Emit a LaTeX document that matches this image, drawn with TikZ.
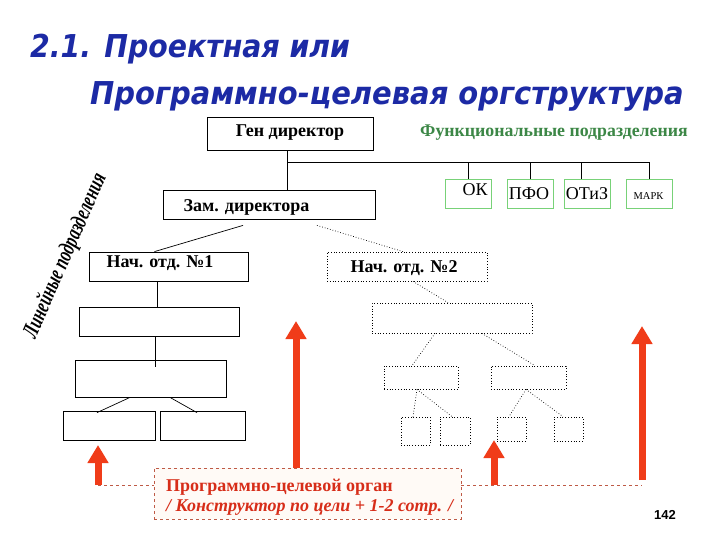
\documentclass[tikz,border=0pt]{standalone}
\usepackage{fontspec}
\setmainfont{Liberation Serif}
\newfontfamily\titlefont{DejaVu Sans}
\newfontfamily\numfont{Liberation Sans}
\usetikzlibrary{arrows.meta}
\definecolor{titleblue}{RGB}{28,42,165}
\definecolor{funcgreen}{RGB}{60,135,70}
\definecolor{boxgreen}{RGB}{120,210,120}
\definecolor{arrred}{RGB}{240,60,25}
\definecolor{txtred}{RGB}{215,45,25}
\definecolor{dashred}{RGB}{190,90,70}
\tikzset{
  box/.style={draw=black, line width=0.8pt, inner sep=0pt},
  dbox/.style={draw=black, dotted, line width=0.8pt, inner sep=0pt},
  gbox/.style={draw=boxgreen, line width=0.9pt, inner sep=0pt, minimum width=46pt, minimum height=29pt},
  conn/.style={draw=black, line width=0.7pt},
  dconn/.style={draw=black, dotted, line width=0.7pt},
  redarrow/.style={draw=arrred, line width=7pt, -{Triangle[width=20pt,length=18pt]}},
  reddash/.style={draw=dashred, dashed, line width=0.7pt},
  bl/.style={font=\bfseries\fontsize{18}{20}\selectfont, inner sep=0pt},
}
\begin{document}
\begin{tikzpicture}[x=1pt,y=-1pt]
\useasboundingbox (0,0) rectangle (720,540);
\fill[white] (0,0) rectangle (720,540);

% title
\node[anchor=west, inner sep=0pt, text=titleblue] (t1) at (30,49)
  {\scalebox{0.9}[1]{\titlefont\bfseries\itshape\fontsize{31.5}{34}\selectfont 2.1. Проектная или}};
\node[anchor=west, inner sep=0pt, text=titleblue] (t2) at (90,96)
  {\scalebox{0.92}[1]{\titlefont\bfseries\itshape\fontsize{31.5}{34}\selectfont Программно-целевая оргструктура}};

% top boxes
\node[box, minimum width=166pt, minimum height=33pt] (gen) at (290,133.5) {};
\node[bl] (gent) at (290,133) {Ген директор};
\node[font=\bfseries\fontsize{17.8}{20}\selectfont, text=funcgreen, inner sep=0pt] (func) at (554,133) {Функциональные подразделения};

\node[box, minimum width=212pt, minimum height=29pt] (zam) at (269,204.5) {};
\node[bl] (zamt) at (246.5,207) {Зам. директора};

% functional boxes
\node[gbox] (ok) at (468,193.5) {};
\node[inner sep=0pt, font=\fontsize{18}{18}\selectfont] (okt) at (475,190) {ОК};
\node[gbox] (pfo) at (530,193.5) {};
\node[inner sep=0pt, font=\fontsize{18}{18}\selectfont] (pfot) at (529,194) {ПФО};
\node[gbox] (otiz) at (587,193.5) {};
\node[inner sep=0pt, font=\fontsize{18}{18}\selectfont] (otizt) at (587,194) {ОТиЗ};
\node[gbox] (mark) at (649,193.5) {};
\node[inner sep=0pt, font=\fontsize{10.5}{12}\selectfont] (markt) at (648.5,196) {МАРК};

\coordinate (bus) at (287,162);
\draw[conn] ([xshift=-3pt]gen.south) -- ([xshift=-3pt]gen.south |- zam.north);
\draw[conn] (bus) -| (mark.north);
\draw[conn] (ok.north) -- (ok.north |- bus);
\draw[conn] (pfo.north) -- (pfo.north |- bus);
\draw[conn] ([xshift=-6pt]otiz.north) -- ([xshift=-6pt]otiz.north |- bus);

% level 2
\node[box, minimum width=159pt, minimum height=29pt] (n1) at (168.5,266.5) {};
\node[bl] (n1t) at (160,263) {Нач. отд. №1};
\node[dbox, minimum width=160pt, minimum height=29pt] (n2) at (407,266.5) {};
\node[bl] (n2t) at (404,268) {Нач. отд. №2};

\draw[conn] ([xshift=-26pt,yshift=-6pt]zam.south) -- ([xshift=-14pt]n1.north);
\draw[dconn] ([xshift=48pt,yshift=-6pt]zam.south) -- ([xshift=-4pt]n2.north);

% left tree
\node[box, minimum width=160pt, minimum height=29pt] (l2) at (159,321.5) {};
\node[box, minimum width=151pt, minimum height=37pt] (l3) at (150.5,378.5) {};
\node[box, minimum width=92pt, minimum height=29pt] (l4a) at (109,425.5) {};
\node[box, minimum width=85pt, minimum height=29pt] (l4b) at (202.5,425.5) {};
\draw[conn] ([xshift=-11.5pt]n1.south) -- ([xshift=-11.5pt]n1.south |- l2.north);
\draw[conn] ([xshift=-4pt]l2.south) -- ([xshift=-4pt,yshift=-7pt]l2.south |- l3.north);
\draw[conn] ([xshift=-20.5pt]l3.south) -- ([xshift=-12pt,yshift=-2pt]l4a.north);
\draw[conn] ([xshift=19.5pt]l3.south) -- ([xshift=-5.5pt,yshift=-2pt]l4b.north);

% right dotted tree
\node[dbox, minimum width=160pt, minimum height=30pt] (r2) at (452,318) {};
\node[dbox, minimum width=74pt, minimum height=23pt] (r3a) at (421,377.5) {};
\node[dbox, minimum width=75pt, minimum height=23pt] (r3b) at (528.5,377.5) {};
\node[dbox, minimum width=29pt, minimum height=28pt] (r4a) at (415.5,431) {};
\node[dbox, minimum width=30pt, minimum height=28pt] (r4b) at (455,431) {};
\node[dbox, minimum width=29pt, minimum height=24pt] (r4c) at (511.5,429) {};
\node[dbox, minimum width=29pt, minimum height=24pt] (r4d) at (568.5,429) {};
\draw[dconn] ([xshift=6pt]n2.south) -- ([xshift=-4pt]r2.north);
\draw[dconn] ([xshift=-17pt]r2.south) -- ([xshift=-9pt]r3a.north);
\draw[dconn] ([xshift=30pt]r2.south) -- ([xshift=6.5pt]r3b.north);
\draw[dconn] ([xshift=-4pt]r3a.south) -- ([xshift=-2.5pt]r4a.north);
\draw[dconn] ([xshift=-4pt]r3a.south) -- ([xshift=-3pt]r4b.north);
\draw[dconn] ([xshift=-2.5pt]r3b.south) -- ([xshift=-2.5pt]r4c.north);
\draw[dconn] ([xshift=-2.5pt]r3b.south) -- ([xshift=-5.5pt]r4d.north);

% program box
\node[draw=dashred, dashed, line width=0.7pt, fill={rgb,255:red,255;green,250;blue,246}, minimum width=307pt, minimum height=51pt, inner sep=0pt] (prog) at (307.5,493.5) {};
\node[anchor=west, align=left, text=txtred, inner sep=0pt, font=\fontsize{18}{20}\selectfont] (progt) at (166,497)
  {\textbf{Программно-целевой орган}\\ \textbf{\textit{/ Конструктор по цели + 1-2 сотр. /}}};

\coordinate (a1b) at (98,485);
\coordinate (a1t) at (98,445);
\coordinate (a2t) at (296,321);
\coordinate (a3b) at (494,485);
\coordinate (a3t) at (494,440);
\coordinate (a4b) at (642,485);
\coordinate (a4t) at (642,326);
\draw[reddash] (a1b) -- (a1b -| prog.west);
\draw[reddash] (a1b -| prog.east) -- (a4b);
\draw[redarrow] (a1b) -- (a1t);
\draw[redarrow] (a2t |- prog.north) -- (a2t);
\draw[redarrow] (a3b) -- (a3t);
\draw[redarrow] ([yshift=5pt]a4b) -- (a4t);

% vertical label
\node[rotate=66.4, inner sep=0pt] (lin) at (65.5,256)
  {\scalebox{0.69}[1]{\bfseries\itshape\fontsize{23}{24}\selectfont Линейные подразделения}};

\node[inner sep=0pt, font=\numfont\bfseries\fontsize{13}{14}\selectfont] (pg) at (665,515) {142};
\end{tikzpicture}
\end{document}
